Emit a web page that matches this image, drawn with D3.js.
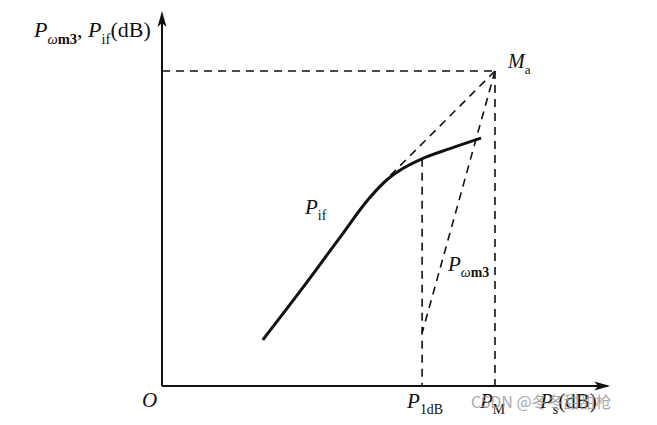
<!DOCTYPE html>
<html lang="zh">
<head>
  <meta charset="utf-8">
  <script src="https://d3js.org/d3.v7.min.js"></script>
  <style>
    body { margin: 0; background: #fff; }
    text { font-family: "Liberation Serif", "DejaVu Serif", serif; fill: #111; }
    .it { font-style: italic; }
  </style>
</head>
<body>
  <svg id="chart" width="657" height="425"></svg>
  <script>
    // curve P_if (input power vs IF output), arbitrary units 0..100
    const pifX = [22.4, 30.7, 39.6, 46.0, 50.0, 53.5, 57.8, 64.0, 70.9];
    const pifY = [12.3, 25.3, 39.7, 50.0, 55.0, 58.0, 60.6, 63.3, 66.1];
    // intercept point M_a
    const maPoint = [74, 84];
    // 1dB compression point, and the low end of the P_wm3 dashed line
    const p1dbX = 57.8;
    const p1dbTopY = 60.6;
    const pw3Low = [57.8, 14.1];
    // end of the extrapolated linear part
    const extEnd = [50.2, 55.5];
    const tickNames = ["1dB", "M"];

    const svg = d3.select("#chart");
    const x = d3.scaleLinear().domain([0, 100]).range([162, 612]);
    const y = d3.scaleLinear().domain([0, 100]).range([386, 11]);

    const dash = "8,6";
    const g = svg.append("g");

    // axes
    g.append("line")
      .attr("x1", x(0)).attr("y1", y(0)).attr("x2", x(99)).attr("y2", y(0))
      .attr("stroke", "#111").attr("stroke-width", 2);
    g.append("line")
      .attr("x1", x(0)).attr("y1", y(0)).attr("x2", x(0)).attr("y2", y(98))
      .attr("stroke", "#111").attr("stroke-width", 2);
    // arrow heads
    let ax = x(99.6), ay = y(0);
    g.append("path")
      .attr("d", `M${ax},${ay} L${ax - 16},${ay - 4.5} L${ax - 12},${ay} L${ax - 16},${ay + 4.5} Z`)
      .attr("fill", "#111");
    let bx = x(0), by = y(100);
    g.append("path")
      .attr("d", `M${bx},${by} L${bx - 4.5},${by + 16} L${bx},${by + 12} L${bx + 4.5},${by + 16} Z`)
      .attr("fill", "#111");

    // dashed guide lines
    const dashed = [
      [[0, maPoint[1]], maPoint],
      [maPoint, [maPoint[0], 0]],
      [[p1dbX, p1dbTopY], [p1dbX, 0]],
      [maPoint, extEnd],
      [maPoint, pw3Low]
    ];
    g.selectAll(".guide").data(dashed).enter()
      .append("line")
      .attr("class", "guide")
      .attr("x1", d => x(d[0][0])).attr("y1", d => y(d[0][1]))
      .attr("x2", d => x(d[1][0])).attr("y2", d => y(d[1][1]))
      .attr("stroke", "#111").attr("stroke-width", 1.6)
      .attr("stroke-dasharray", dash);

    // P_if curve
    const pts = pifX.map((v, i) => [v, pifY[i]]);
    const line = d3.line().x(d => x(d[0])).y(d => y(d[1])).curve(d3.curveMonotoneX);
    g.append("path")
      .attr("d", line(pts))
      .attr("fill", "none").attr("stroke", "#111").attr("stroke-width", 3);

    // labels: parts with small:true are subscripts
    function label(px, py, parts, size) {
      const t = svg.append("text").attr("x", px).attr("y", py).attr("font-size", size);
      let low = false;
      const drop = size * 0.3;
      parts.forEach(p => {
        const s = t.append("tspan").text(p.t);
        if (p.it) s.attr("font-style", "italic");
        if (p.bold) s.attr("font-weight", "bold");
        if (p.small) {
          s.attr("font-size", size * 0.66);
          if (!low) { s.attr("dy", drop); low = true; }
        } else if (low) {
          s.attr("dy", -drop); low = false;
        }
      });
      return t;
    }

    label(34, 37, [
      { t: "P", it: true },
      { t: "ω", it: true, small: true },
      { t: "m3", bold: true, small: true },
      { t: ", " },
      { t: "P", it: true },
      { t: "if", small: true },
      { t: "(dB)" }
    ], 22);

    label(x(maPoint[0]) + 13, y(maPoint[1]) - 3, [
      { t: "M", it: true },
      { t: "a", small: true }
    ], 20);

    label(305, 214, [
      { t: "P", it: true },
      { t: "if", small: true }
    ], 21);

    label(448, 271, [
      { t: "P", it: true },
      { t: "ω", it: true, small: true },
      { t: "m3", bold: true, small: true }
    ], 21);

    svg.append("text").attr("class", "it")
      .attr("x", x(0) - 20).attr("y", y(0) + 21)
      .attr("font-size", 21).text("O");

    [p1dbX, maPoint[0]].forEach((v, i) => {
      label(x(v) - 15, y(0) + 22, [
        { t: "P", it: true },
        { t: tickNames[i], small: true }
      ], 21);
    });

    label(540, 408, [
      { t: "P", it: true },
      { t: "s", small: true },
      { t: "(dB)" }
    ], 21);

    // watermark
    svg.append("text")
      .attr("x", 471).attr("y", 408)
      .attr("font-size", 16)
      .style("font-family", "'Noto Sans CJK SC', 'DejaVu Sans', sans-serif")
      .style("fill", "#9a9a9a")
      .attr("opacity", 0.85)
      .text("CSDN @冬冬甜甜枪");
  </script>
</body>
</html>
